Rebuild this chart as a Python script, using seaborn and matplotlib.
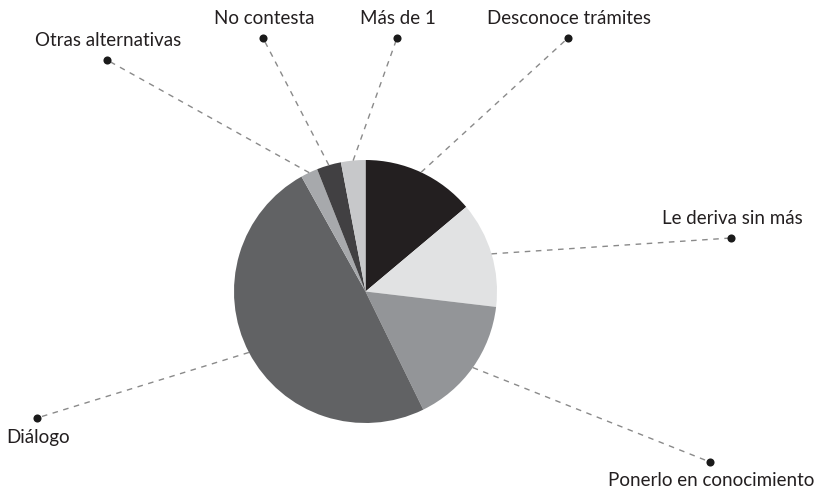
import numpy as np
import matplotlib
matplotlib.use("Agg")
import matplotlib.pyplot as plt
import seaborn as sns

# data (percent, clockwise from 12 o'clock)
categories = ["Desconoce trámites", "Le deriva sin más", "Ponerlo en conocimiento",
              "Diálogo", "Otras alternativas", "No contesta", "Más de 1"]
values = [13.9, 13.0, 15.9, 49.2, 2.1, 3.0, 3.0]
colors = ["#231f20", "#e1e2e3", "#939598", "#616264", "#a7a9ac", "#414042", "#c7c8ca"]

# layout: dot position (px) and label placement
W, H = 819, 490
center = (365.5, 291.5)
radius = 131.5
dots = {
    "Desconoce trámites": (568, 38, "above"),
    "Le deriva sin más": (731, 238, "above"),
    "Ponerlo en conocimiento": (710, 462, "below"),
    "Diálogo": (37, 418, "below"),
    "Otras alternativas": (107, 60, "above"),
    "No contesta": (263, 38, "above"),
    "Más de 1": (397, 38, "above"),
}

sns.set_style("white")
plt.rcParams["font.family"] = ["Lato", "DejaVu Sans"]

fig = plt.figure(figsize=(W / 100, H / 100), dpi=100)
ax = fig.add_axes([0, 0, 1, 1])

cx, cy = center[0], H - center[1]
wedges, _ = ax.pie(values, colors=colors, startangle=90, counterclock=False,
                   center=(cx, cy), radius=radius, frame=True,
                   wedgeprops=dict(linewidth=0))
ax.set_xlim(0, W)
ax.set_ylim(0, H)
ax.set_aspect("equal")
ax.axis("off")

for w, name in zip(wedges, categories):
    mid = np.deg2rad((w.theta1 + w.theta2) / 2)
    ex, ey = cx + radius * np.cos(mid), cy + radius * np.sin(mid)
    dx, dy, side = dots[name]
    dy = H - dy
    ax.plot([ex, dx], [ey, dy], color="#8a8a8a", lw=1, ls=(0, (4, 4)), zorder=1)
    ax.scatter([dx], [dy], s=34, color="#1a1a1a", zorder=3, linewidths=0)
    off = 19 if side == "above" else -19
    ax.text(dx + 1, dy + off, name, ha="center", va="center", fontsize=13.5,
            color="#231f20")

fig.savefig("out.png", dpi=100)
